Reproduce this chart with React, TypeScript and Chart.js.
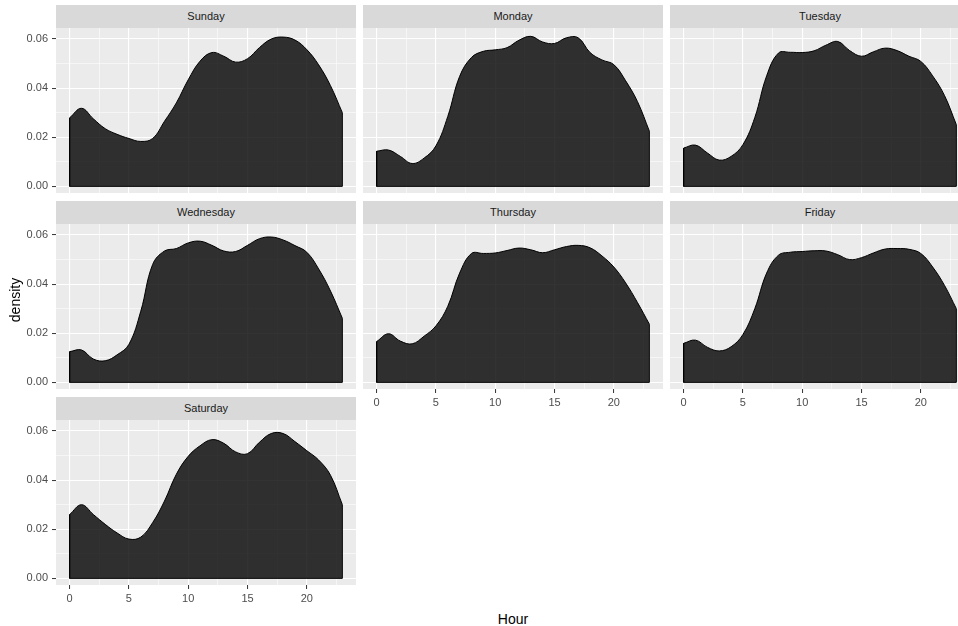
import React, { useEffect, useRef } from 'react';
import { Chart, registerables } from 'chart.js';

Chart.register(...registerables);

const HOURS = [0, 1, 2, 3, 4, 5, 6, 7, 8, 9, 10, 11, 12, 13, 14, 15, 16, 17, 18, 19, 20, 21, 22, 23];
const DAYS = ['Sunday', 'Monday', 'Tuesday', 'Wednesday', 'Thursday', 'Friday', 'Saturday'];

const SUNDAY = [0.0279, 0.0318, 0.0275, 0.0235, 0.0212, 0.0195, 0.0183, 0.0195, 0.0265, 0.0340, 0.0434, 0.0510, 0.0545, 0.0530, 0.0506, 0.0520, 0.0565, 0.0600, 0.0608, 0.0596, 0.0557, 0.0495, 0.0410, 0.0300];
const MONDAY = [0.0143, 0.0148, 0.0122, 0.0093, 0.0115, 0.0165, 0.0285, 0.0448, 0.0525, 0.0550, 0.0556, 0.0565, 0.0595, 0.0611, 0.0588, 0.0582, 0.0605, 0.0605, 0.0545, 0.0515, 0.0496, 0.0430, 0.0345, 0.0225];
const TUESDAY = [0.0156, 0.0168, 0.0136, 0.0107, 0.0122, 0.0170, 0.0280, 0.0450, 0.0543, 0.0546, 0.0545, 0.0552, 0.0575, 0.0590, 0.0553, 0.0530, 0.0548, 0.0563, 0.0553, 0.0530, 0.0509, 0.0450, 0.0370, 0.0251];
const WEDNESDAY = [0.0125, 0.0132, 0.0095, 0.0088, 0.0112, 0.0155, 0.0290, 0.0480, 0.0535, 0.0545, 0.0568, 0.0575, 0.0558, 0.0535, 0.0533, 0.0558, 0.0585, 0.0592, 0.0580, 0.0557, 0.0530, 0.0462, 0.0372, 0.0261];
const THURSDAY = [0.0166, 0.0198, 0.0168, 0.0157, 0.0188, 0.0230, 0.0310, 0.0445, 0.0525, 0.0525, 0.0527, 0.0537, 0.0547, 0.0540, 0.0528, 0.0540, 0.0553, 0.0558, 0.0548, 0.0515, 0.0470, 0.0405, 0.0325, 0.0237];
const FRIDAY = [0.0159, 0.0172, 0.0143, 0.0128, 0.0145, 0.0195, 0.0300, 0.0445, 0.0518, 0.0530, 0.0533, 0.0536, 0.0535, 0.0520, 0.0500, 0.0508, 0.0527, 0.0543, 0.0545, 0.0542, 0.0525, 0.0470, 0.0395, 0.0300];
const SATURDAY = [0.0260, 0.0300, 0.0260, 0.0220, 0.0185, 0.0160, 0.0168, 0.0227, 0.0315, 0.0424, 0.0497, 0.0540, 0.0565, 0.0550, 0.0515, 0.0508, 0.0554, 0.0590, 0.0590, 0.0557, 0.0520, 0.0482, 0.0420, 0.0300];

const SERIES = [SUNDAY, MONDAY, TUESDAY, WEDNESDAY, THURSDAY, FRIDAY, SATURDAY];

const X_TICKS = [0, 5, 10, 15, 20];
const X_MINOR = [2.5, 7.5, 12.5, 17.5, 22.5];
const Y_TICKS = [0, 0.02, 0.04, 0.06];
const Y_MINOR = [0.01, 0.03, 0.05];

const X_MIN = -1.15;
const X_MAX = 24.15;
const Y_MIN = -0.0027;
const Y_MAX = 0.0645;

const COL_LEFT = [56, 363, 670];
const ROW_TOP = [5, 201, 397];
const STRIP_H = 23;
const PANEL_W = 300;
const PANEL_H = 165;

const FONT = '"Liberation Sans", Arial, Helvetica, sans-serif';

const isIn = (arr: number[], v: number) => arr.some((a) => Math.abs(a - v) < 1e-9);
const tickSet = (major: number[], minor: number[]) =>
  [...major, ...minor].sort((a, b) => a - b).map((v) => ({ value: v }));

const panelBg = {
  id: 'panelBg',
  beforeDraw(chart: any) {
    const { ctx, chartArea } = chart;
    ctx.save();
    ctx.fillStyle = '#EBEBEB';
    ctx.fillRect(chartArea.left, chartArea.top, chartArea.right - chartArea.left, chartArea.bottom - chartArea.top);
    ctx.restore();
  },
};

function Panel({ idx }: { idx: number }) {
  const ref = useRef<HTMLCanvasElement | null>(null);
  const col = idx % 3;
  const row = Math.floor(idx / 3);
  const showY = col === 0;
  const showX = idx >= 4;
  const yAxisW = showY ? 56 : 0;
  const xAxisH = showX ? 20 : 0;
  const width = PANEL_W + yAxisW;
  const height = PANEL_H + xAxisH;
  const left = COL_LEFT[col] - yAxisW;
  const top = ROW_TOP[row] + STRIP_H;

  useEffect(() => {
    const values = SERIES[idx];
    const pts = HOURS.map((h, i) => ({ x: h, y: values[i] }));
    const first = HOURS[0];
    const last = HOURS[HOURS.length - 1];
    const edges = [
      { x: first, y: values[0] },
      { x: first, y: 0 },
      { x: last, y: 0 },
      { x: last, y: values[values.length - 1] },
    ];
    const zeroPad = (s: any) => {
      s.paddingTop = 0;
      s.paddingBottom = 0;
      s.paddingLeft = 0;
      s.paddingRight = 0;
    };
    const chart = new Chart(ref.current as HTMLCanvasElement, {
      type: 'line',
      data: {
        datasets: [
          {
            data: pts,
            fill: 'origin',
            backgroundColor: 'rgba(0,0,0,0.8)',
            borderColor: '#000000',
            borderWidth: 1,
            pointRadius: 0,
            tension: 0.4,
          },
          {
            data: edges,
            fill: false,
            borderColor: '#000000',
            borderWidth: 1,
            pointRadius: 0,
            tension: 0,
          },
        ],
      },
      options: {
        responsive: false,
        animation: false,
        devicePixelRatio: 1,
        events: [],
        layout: { padding: 0 },
        plugins: { legend: { display: false }, tooltip: { enabled: false }, title: { display: false } },
        scales: {
          x: {
            type: 'linear',
            min: X_MIN,
            max: X_MAX,
            afterBuildTicks: (s: any) => {
              s.ticks = tickSet(X_TICKS, X_MINOR);
            },
            afterFit: (s: any) => {
              s.height = xAxisH;
              zeroPad(s);
            },
            border: { display: false },
            grid: {
              color: '#FFFFFF',
              lineWidth: (c: any) => (c.tick && isIn(X_TICKS, c.tick.value) ? 1.1 : 0.55),
              tickColor: (c: any) => (c.tick && isIn(X_TICKS, c.tick.value) ? '#333333' : 'rgba(0,0,0,0)'),
              tickLength: 4,
              tickWidth: 1,
              drawTicks: showX,
            },
            ticks: {
              display: showX,
              autoSkip: false,
              maxRotation: 0,
              minRotation: 0,
              padding: 3,
              color: '#4D4D4D',
              font: { family: FONT, size: 11 },
              callback: (v: any) => (isIn(X_TICKS, Number(v)) ? String(v) : ''),
            },
          },
          y: {
            type: 'linear',
            min: Y_MIN,
            max: Y_MAX,
            afterBuildTicks: (s: any) => {
              s.ticks = tickSet(Y_TICKS, Y_MINOR);
            },
            afterFit: (s: any) => {
              s.width = yAxisW;
              zeroPad(s);
            },
            border: { display: false },
            grid: {
              color: '#FFFFFF',
              lineWidth: (c: any) => (c.tick && isIn(Y_TICKS, c.tick.value) ? 1.1 : 0.55),
              tickColor: (c: any) => (c.tick && isIn(Y_TICKS, c.tick.value) ? '#333333' : 'rgba(0,0,0,0)'),
              tickLength: 4,
              tickWidth: 1,
              drawTicks: showY,
            },
            ticks: {
              display: showY,
              autoSkip: false,
              padding: 4,
              color: '#4D4D4D',
              font: { family: FONT, size: 11 },
              callback: (v: any) => (isIn(Y_TICKS, Number(v)) ? Number(v).toFixed(2) : ''),
            },
          },
        },
      } as any,
      plugins: [panelBg],
    });
    return () => chart.destroy();
  }, [idx]);

  return (
    <>
      <div
        style={{
          position: 'absolute',
          left: COL_LEFT[col],
          top: ROW_TOP[row],
          width: PANEL_W,
          height: STRIP_H,
          background: '#D9D9D9',
          color: '#1A1A1A',
          fontFamily: FONT,
          fontSize: 11,
          lineHeight: `${STRIP_H}px`,
          textAlign: 'center',
        }}
      >
        {DAYS[idx]}
      </div>
      <canvas
        ref={ref}
        width={width}
        height={height}
        style={{ position: 'absolute', left, top, width, height }}
      />
    </>
  );
}

export default function App() {
  return (
    <div
      style={{
        position: 'absolute',
        left: 0,
        top: 0,
        width: 958,
        height: 626,
        overflow: 'hidden',
        background: '#FFFFFF',
      }}
    >
      {DAYS.map((d, i) => (
        <Panel key={d} idx={i} />
      ))}
      <div
        style={{
          position: 'absolute',
          left: 15 - 40,
          top: 300 - 10,
          width: 80,
          height: 20,
          lineHeight: '20px',
          textAlign: 'center',
          transform: 'rotate(-90deg)',
          fontFamily: FONT,
          fontSize: 14,
          color: '#000000',
        }}
      >
        density
      </div>
      <div
        style={{
          position: 'absolute',
          left: 513 - 40,
          top: 619 - 10,
          width: 80,
          height: 20,
          lineHeight: '20px',
          textAlign: 'center',
          fontFamily: FONT,
          fontSize: 14,
          color: '#000000',
        }}
      >
        Hour
      </div>
    </div>
  );
}
